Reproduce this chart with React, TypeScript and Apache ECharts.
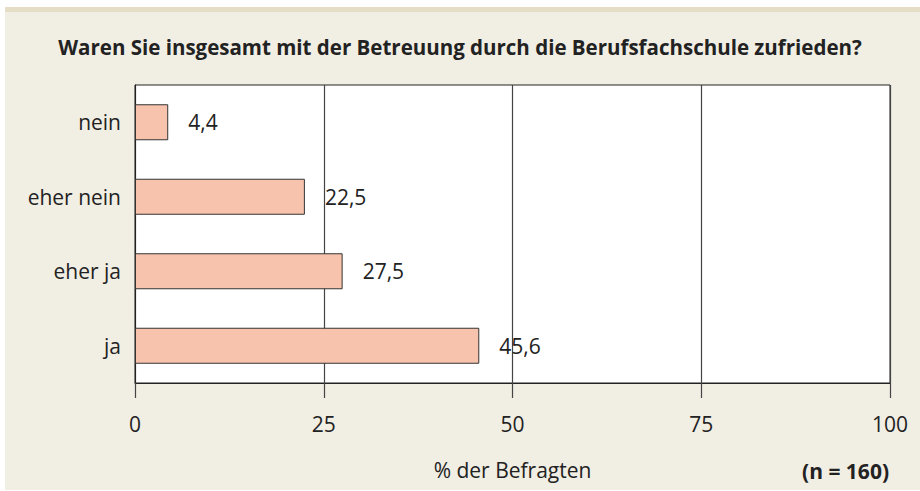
import React, { useEffect, useRef } from "react";
import * as echarts from "echarts";

const categories = ["nein", "eher nein", "eher ja", "ja"];
const values = [4.4, 22.5, 27.5, 45.6];
const titleText = "Waren Sie insgesamt mit der Betreuung durch die Berufsfachschule zufrieden?";
const axisName = "% der Befragten";
const nText = "(n = 160)";

const FONT = "'Open Sans', 'Noto Sans', sans-serif";

export default function App() {
  const ref = useRef<HTMLDivElement>(null);
  useEffect(() => {
    const chart = echarts.init(ref.current!, undefined, { renderer: "svg" });
    chart.setOption({
      animation: false,
      backgroundColor: "#f1eee4",
      textStyle: { fontFamily: FONT },
      title: {
        text: titleText,
        left: "center",
        top: 31,
        textStyle: { fontSize: 20.5, fontWeight: "bold", color: "#222", fontFamily: FONT },
      },
      graphic: [
        { type: "rect", left: 0, top: 0, shape: { width: 920, height: 7 }, style: { fill: "#ffffff" } },
        { type: "rect", left: 0, top: 0, shape: { width: 5, height: 491 }, style: { fill: "#ffffff" } },
        { type: "rect", left: 0, top: 490, shape: { width: 920, height: 1 }, style: { fill: "#ffffff" } },
        { type: "rect", left: 5, top: 7, shape: { width: 915, height: 5 }, style: { fill: "#e6ddc6" } },
        {
          type: "text",
          right: 31,
          top: 460,
          style: { text: nText, fontSize: 21, fontWeight: "bold", fill: "#222", fontFamily: FONT },
        },
      ],
      grid: {
        left: 135,
        right: 30,
        top: 85,
        bottom: 108,
        show: true,
        backgroundColor: "#ffffff",
        borderColor: "#222",
        borderWidth: 1,
      },
      xAxis: {
        type: "value",
        min: 0,
        max: 100,
        interval: 25,
        name: axisName,
        nameLocation: "middle",
        nameGap: 76,
        nameTextStyle: { fontSize: 21, color: "#222", fontFamily: FONT },
        axisLine: { show: true, lineStyle: { color: "#222", width: 1 } },
        axisTick: { show: true, length: 15, lineStyle: { color: "#444", width: 1.2 } },
        axisLabel: { fontSize: 21, color: "#222", margin: 30, fontFamily: FONT },
        splitLine: { show: true, lineStyle: { color: "#444", width: 1.2 } },
      },
      yAxis: {
        type: "category",
        data: categories,
        inverse: true,
        axisLine: { show: true, lineStyle: { color: "#222", width: 1 } },
        axisTick: { show: false },
        axisLabel: { fontSize: 21, color: "#222", margin: 14, fontFamily: FONT },
      },
      series: [
        {
          type: "bar",
          data: values,
          barWidth: 36,
          itemStyle: { color: "#f7c3ad", borderColor: "#333", borderWidth: 1 },
          label: {
            show: true,
            position: "right",
            distance: 20,
            fontSize: 21,
            color: "#222",
            fontFamily: FONT,
            formatter: (p: any) => String(p.value).replace(".", ","),
          },
        },
      ],
    });
    return () => chart.dispose();
  }, []);
  return (
    <div
      ref={ref}
      style={{ position: "fixed", left: 0, top: 0, width: 920, height: 491 }}
    />
  );
}
